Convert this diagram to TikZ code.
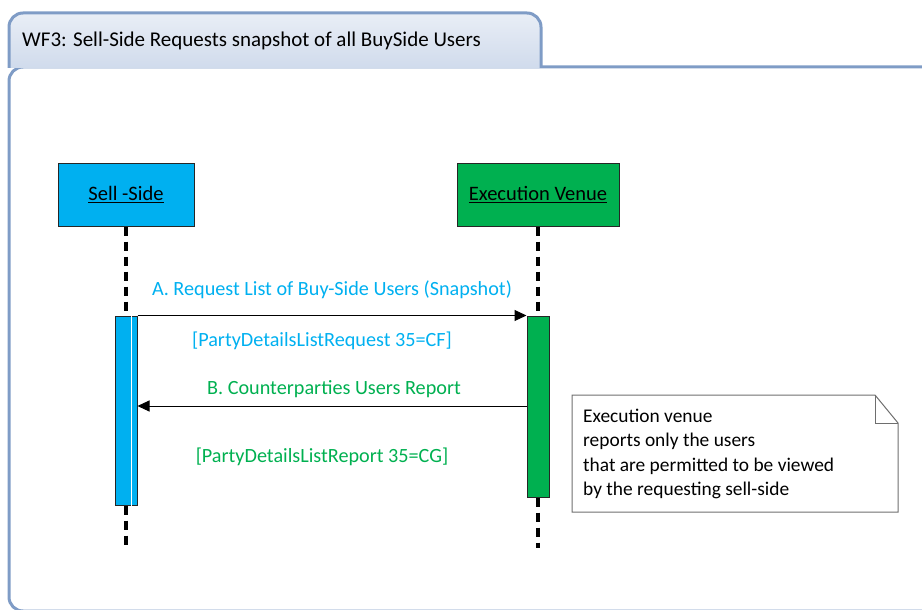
\documentclass[tikz,border=0pt]{standalone}
\usepackage{fontspec}
\setmainfont{Carlito}
\usetikzlibrary{arrows.meta,positioning,calc}
\definecolor{framebl}{HTML}{7F9CC6}
\definecolor{tabtop}{HTML}{E9EEF6}
\definecolor{tabbot}{HTML}{D0DBEC}
\definecolor{sellcol}{HTML}{00B0F0}
\definecolor{venuecol}{HTML}{00B050}
\definecolor{notegray}{HTML}{6E6E6E}
\newcommand\msgfont{\fontsize{20.2}{23}\selectfont}
\tikzset{
  actor/.style={draw=black!85, line width=1pt, minimum height=63pt, font=\fontsize{20.5}{23}\selectfont},
  actbar/.style={draw=black!85, line width=1pt, minimum width=22pt, inner sep=0pt},
  lifeline/.style={line width=3.2pt, dash pattern=on 9pt off 6pt},
  msg/.style={draw=black, line width=1pt, -{Triangle[length=12pt,width=11pt]}},
  msglabel/.style={font=\msgfont, inner sep=0pt}
}

\begin{document}
\begin{tikzpicture}[x=1pt,y=-1pt]
\useasboundingbox (0,0) rectangle (922,610);
% frame and tab
\draw[framebl, line width=3pt, rounded corners=14pt] (9,67) rectangle (940,611);
\draw[framebl, line width=3pt, rounded corners=14pt, top color=tabtop, bottom color=tabbot]
  (9,68) -- (9,13) -- (541,13) -- (541,68);
\node[anchor=west, inner sep=0pt, font=\fontsize{21}{24}\selectfont] (title) at (22,41)
  {WF3: Sell-Side Requests snapshot of all BuySide Users};
% actors
\node[actor, fill=sellcol, minimum width=136pt] (sell) at (126,194.5) {\underline{Sell -Side}};
\node[actor, fill=venuecol, minimum width=162pt] (venue) at (538,194.5) {\underline{Execution Venue}};
\node[actbar, fill=sellcol, minimum height=189pt] (sellact) at (126,410.5) {};
\draw[white, line width=1pt] ([xshift=-6pt]sellact.north east) -- ([xshift=-6pt]sellact.south east);
\node[actbar, fill=venuecol, minimum height=181pt] (venueact) at (538,406.5) {};
\coordinate (sellend) at (126,548);
\coordinate (venueend) at (538,548);
% lifelines
\draw[lifeline] (sell.south) -- (sellact.north);
\draw[lifeline] (sellact.south) -- (sellend);
\draw[lifeline] (venue.south) -- (venueact.north);
\draw[lifeline] (venueact.south) -- (venueend);
% messages
\coordinate (repy) at (0,406);
\draw[msg] (sellact.north east) -- (venueact.north west);
\draw[msg] (venueact.west |- repy) -- (sellact.east |- repy);
\node[msglabel, text=sellcol] (reqtxt) at (332,290) {A. Request List of Buy-Side Users (Snapshot)};
\node[msglabel, text=sellcol] (reqtag) at (322,341) {[PartyDetailsListRequest 35=CF]};
\node[msglabel, text=venuecol] (reptxt) at (334,389) {B. Counterparties Users Report};
\node[msglabel, text=venuecol] (reptag) at (322,457) {[PartyDetailsListReport 35=CG]};
% note
\draw[notegray, line width=1pt] (572,395) -- (875,395) -- (898,423) -- (898,512) -- (572,512) -- cycle;
\draw[notegray, line width=1pt] (875,395) -- (875,423) -- (898,423);
\node[anchor=west, inner sep=0pt, align=left, font=\fontsize{19.4}{24.4}\selectfont] (note) at (583,454)
  {Execution venue\\reports only the users\\that are permitted to be viewed\\by the requesting sell-side};
\end{tikzpicture}
\end{document}
